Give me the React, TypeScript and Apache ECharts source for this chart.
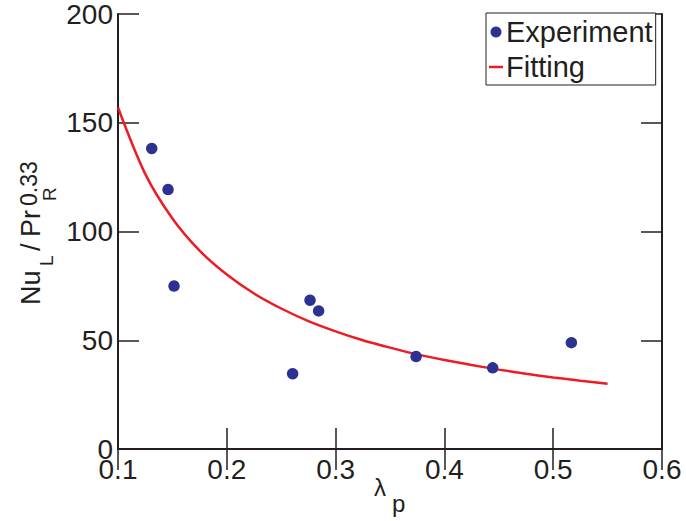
import React, { useEffect, useRef } from "react";
import * as echarts from "echarts";

const experimentPoints: [number, number][] = [
  [0.131, 138.2],
  [0.146, 119.3],
  [0.1515, 74.9],
  [0.2605, 34.6],
  [0.2765, 68.4],
  [0.2844, 63.5],
  [0.374, 42.5],
  [0.4444, 37.3],
  [0.5167, 48.9],
];

const fitX = [0.1, 0.125, 0.15, 0.175, 0.2, 0.225, 0.25, 0.275, 0.3, 0.325, 0.35, 0.375, 0.4, 0.425, 0.45, 0.475, 0.5, 0.525, 0.55];
const fitY = [157, 126.5, 106, 91.2, 80.2, 71.5, 64.6, 58.8, 54.1, 50.0, 46.6, 43.5, 40.9, 38.6, 36.5, 34.6, 32.9, 31.4, 30.0];

const xTicks = { min: 0.1, max: 0.6, interval: 0.1 };
const yTicks = { min: 0, max: 200, interval: 50 };

const FONT = "Liberation Sans";
const INK = "#231f20";
const BLUE = "#2d3192";
const RED = "#ed1c24";

export default function App() {
  const ref = useRef<HTMLDivElement>(null);

  useEffect(() => {
    if (!ref.current) return;
    document.body.style.margin = "0";
    const chart = echarts.init(ref.current, undefined, { renderer: "svg" });

    const axisLine = { show: true, lineStyle: { color: INK, width: 2 } };
    const axisTick = { show: true, inside: true, length: 21, lineStyle: { color: INK, width: 1.5 } };

    const txt = (text: string, x: number, y: number, fs: number) => ({
      type: "text",
      x,
      y,
      style: {
        text,
        fontSize: fs,
        fontFamily: FONT,
        fill: INK,
        align: "left",
        verticalAlign: "middle",
      },
    });

    chart.setOption({
      animation: false,
      backgroundColor: "#ffffff",
      grid: { left: 118, right: 24, top: 11, bottom: 72, containLabel: false },
      legend: {
        orient: "vertical",
        left: 486,
        top: 13,
        padding: [4, 3, 3, 3],
        itemGap: 5,
        itemWidth: 14,
        itemHeight: 11,
        symbolKeepAspect: true,
        borderColor: INK,
        borderWidth: 1,
        backgroundColor: "#ffffff",
        textStyle: { fontSize: 29, fontFamily: FONT, color: INK, lineHeight: 30, padding: [0, 0, 0, -2] },
        data: [
          { name: "Experiment", icon: "circle", itemStyle: { color: BLUE } },
          { name: "Fitting", icon: "path://M0,0L14,0L14,2.5L0,2.5Z", itemStyle: { color: RED } },
        ],
      },
      xAxis: [
        {
          type: "value",
          min: xTicks.min,
          max: xTicks.max,
          interval: xTicks.interval,
          position: "bottom",
          axisLine,
          axisTick,
          splitLine: { show: false },
          axisLabel: {
            fontSize: 28,
            fontFamily: FONT,
            color: INK,
            margin: 6,
            formatter: (v: number) => v.toFixed(1),
          },
        },
        {
          type: "value",
          min: xTicks.min,
          max: xTicks.max,
          interval: xTicks.interval,
          position: "top",
          axisLine,
          axisTick,
          splitLine: { show: false },
          axisLabel: { show: false },
        },
      ],
      yAxis: [
        {
          type: "value",
          min: yTicks.min,
          max: yTicks.max,
          interval: yTicks.interval,
          position: "left",
          axisLine,
          axisTick,
          splitLine: { show: false },
          axisLabel: { fontSize: 28, fontFamily: FONT, color: INK, margin: 5 },
        },
        {
          type: "value",
          min: yTicks.min,
          max: yTicks.max,
          interval: yTicks.interval,
          position: "right",
          axisLine,
          axisTick,
          splitLine: { show: false },
          axisLabel: { show: false },
        },
      ],
      series: [
        {
          name: "Fitting",
          type: "line",
          xAxisIndex: 0,
          yAxisIndex: 0,
          data: fitX.map((x, i) => [x, fitY[i]]),
          smooth: 0.3,
          showSymbol: false,
          symbol: "none",
          lineStyle: { color: RED, width: 2.5 },
          itemStyle: { color: RED },
          z: 2,
        },
        {
          name: "Experiment",
          type: "scatter",
          xAxisIndex: 0,
          yAxisIndex: 0,
          data: experimentPoints,
          symbol: "circle",
          symbolSize: 11.5,
          itemStyle: { color: BLUE, opacity: 1 },
          z: 3,
        },
      ],
      graphic: [
        {
          type: "group",
          x: 40,
          y: 305,
          rotation: Math.PI / 2,
          children: [
            txt("Nu", 0, -9.5, 27),
            txt("L", 39, 6.4, 19),
            txt("/", 54, -9.5, 27),
            txt("Pr", 68, -9.5, 27),
            txt("0.33", 99, -11.3, 23),
            txt("R", 104, 9.4, 19),
          ],
        },
        txt("λ", 374, 487, 24),
        txt("p", 392, 503, 24),
      ],
    });

    return () => chart.dispose();
  }, []);

  return <div ref={ref} style={{ width: 686, height: 521 }} />;
}
